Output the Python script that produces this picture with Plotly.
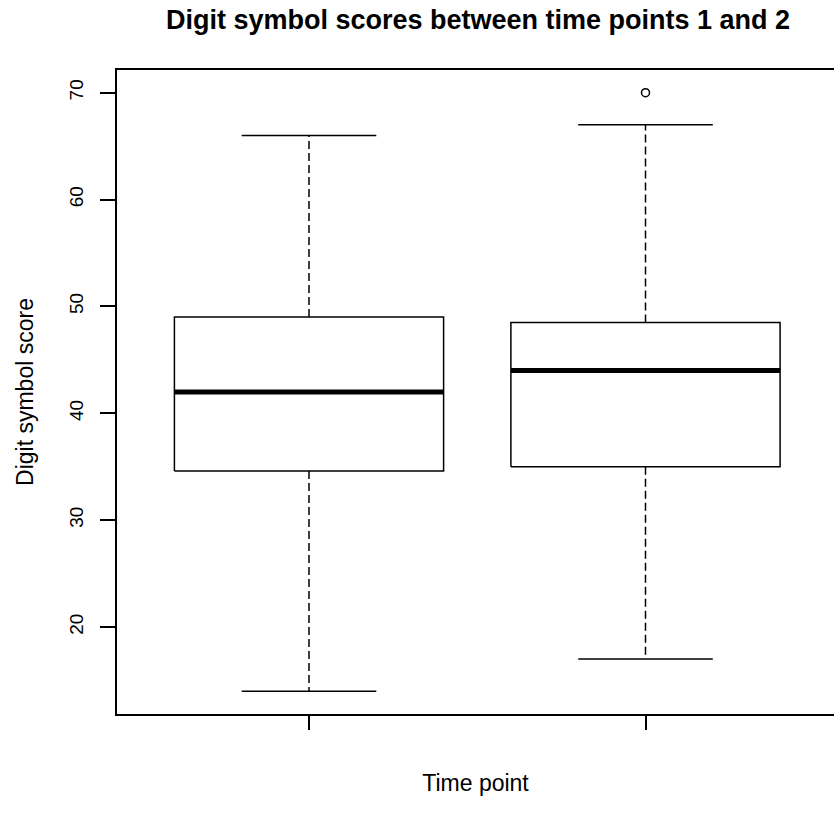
import plotly.graph_objects as go

# ---- data ----
groups = [1, 2]
lower_whisker = [14, 17]
q1 = [34.6, 35.0]
median = [42, 44]
q3 = [49, 48.5]
upper_whisker = [66, 67]
outlier_x = [2]
outlier_y = [70]
y_ticks = [20, 30, 40, 50, 60, 70]

box_half = 0.4
cap_half = 0.2
FONT = "Liberation Sans, Arial, sans-serif"

fig = go.Figure()
for i, g in enumerate(groups):
    # box rectangle
    fig.add_trace(go.Scatter(
        x=[g - box_half, g + box_half, g + box_half, g - box_half, g - box_half],
        y=[q1[i], q1[i], q3[i], q3[i], q1[i]],
        mode="lines", line=dict(color="black", width=1.5), showlegend=False, hoverinfo="skip"))
    # median
    fig.add_trace(go.Scatter(
        x=[g - box_half, g + box_half], y=[median[i], median[i]],
        mode="lines", line=dict(color="black", width=5), showlegend=False, hoverinfo="skip"))
    # whiskers (dashed)
    fig.add_trace(go.Scatter(
        x=[g, g], y=[q3[i], upper_whisker[i]],
        mode="lines", line=dict(color="black", width=1.5, dash="8px,4px"), showlegend=False, hoverinfo="skip"))
    fig.add_trace(go.Scatter(
        x=[g, g], y=[q1[i], lower_whisker[i]],
        mode="lines", line=dict(color="black", width=1.5, dash="8px,4px"), showlegend=False, hoverinfo="skip"))
    # caps
    fig.add_trace(go.Scatter(
        x=[g - cap_half, g + cap_half], y=[upper_whisker[i], upper_whisker[i]],
        mode="lines", line=dict(color="black", width=1.5), showlegend=False, hoverinfo="skip"))
    fig.add_trace(go.Scatter(
        x=[g - cap_half, g + cap_half], y=[lower_whisker[i], lower_whisker[i]],
        mode="lines", line=dict(color="black", width=1.5), showlegend=False, hoverinfo="skip"))

fig.add_trace(go.Scatter(
    x=outlier_x, y=outlier_y, mode="markers",
    marker=dict(symbol="circle-open", size=8, color="black", line=dict(width=1.5)),
    showlegend=False, hoverinfo="skip"))

fig.update_layout(
    width=834, height=823,
    margin=dict(l=117, r=0, t=70, b=109),
    paper_bgcolor="white", plot_bgcolor="white",
    font=dict(family=FONT, color="black", size=19),
    title=dict(text="<b>Digit symbol scores between time points 1 and 2</b>",
               x=478 / 834, xref="container", xanchor="center",
               y=1 - 20 / 823, yref="container", yanchor="middle",
               font=dict(family=FONT, size=27, color="black")),
)
fig.update_xaxes(
    range=[0.4294, 2.5602], showgrid=False, zeroline=False,
    tickmode="array", tickvals=groups, ticktext=["", ""],
    ticks="outside", ticklen=14, tickwidth=1.5, tickcolor="black",
    showline=True, linecolor="black", linewidth=1.5, mirror=True,
    title=dict(text="Time point", standoff=42, font=dict(size=23)),
)
fig.update_yaxes(
    range=[11.86, 72.12], showgrid=False, zeroline=False,
    tickmode="array", tickvals=y_ticks,
    ticks="outside", ticklen=15, tickwidth=1.5, tickcolor="black",
    tickangle=-90, ticklabelstandoff=10,
    showline=True, linecolor="black", linewidth=1.5, mirror=False,
    title=dict(text="Digit symbol score", standoff=26, font=dict(size=23)),
)

fig.write_html("out.html")
